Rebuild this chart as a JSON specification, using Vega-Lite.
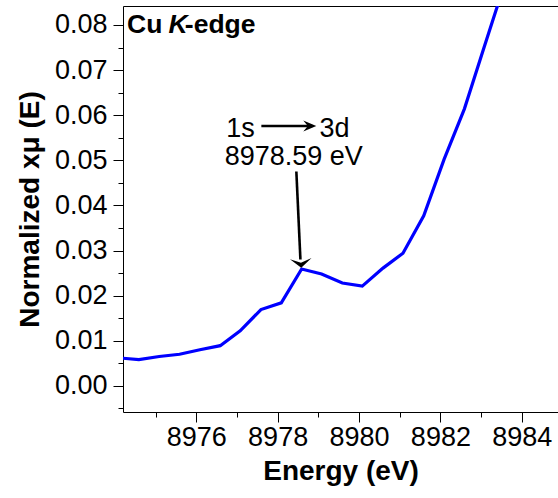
{
  "$schema": "https://vega.github.io/schema/vega-lite/v6.json",
  "width": 435,
  "height": 406,
  "autosize": "none",
  "padding": {"left": 123, "top": 6, "right": 0, "bottom": 86},
  "background": "white",
  "config": {
    "view": {"stroke": null},
    "font": "Liberation Sans",
    "axis": {
      "grid": false,
      "domainColor": "black",
      "domainWidth": 1,
      "tickColor": "black",
      "tickWidth": 1,
      "labelColor": "black",
      "titleColor": "black",
      "labelFont": "Liberation Sans",
      "titleFont": "Liberation Sans",
      "labelFontSize": 27,
      "titleFontSize": 28,
      "titleFontWeight": "bold"
    }
  },
  "datasets": {
    "spectrum": [
      {"energy": 8974.09, "mu": 0.0062},
      {"energy": 8974.59, "mu": 0.0058},
      {"energy": 8975.09, "mu": 0.0065},
      {"energy": 8975.59, "mu": 0.0070},
      {"energy": 8976.09, "mu": 0.0080},
      {"energy": 8976.59, "mu": 0.0089},
      {"energy": 8977.08, "mu": 0.0122},
      {"energy": 8977.59, "mu": 0.0169},
      {"energy": 8978.09, "mu": 0.0184},
      {"energy": 8978.59, "mu": 0.0259},
      {"energy": 8979.08, "mu": 0.0248},
      {"energy": 8979.59, "mu": 0.0228},
      {"energy": 8980.08, "mu": 0.0221},
      {"energy": 8980.59, "mu": 0.0261},
      {"energy": 8981.08, "mu": 0.0294},
      {"energy": 8981.59, "mu": 0.0377},
      {"energy": 8982.09, "mu": 0.0502},
      {"energy": 8982.59, "mu": 0.0614},
      {"energy": 8983.08, "mu": 0.0752},
      {"energy": 8983.59, "mu": 0.0895}
    ],
    "notes": [
      {"energy": 8976.74, "mu": 0.0552, "label": "1s"},
      {"energy": 8979.03, "mu": 0.0551, "label": "3d"},
      {"energy": 8976.70, "mu": 0.0490, "label": "8978.59 eV"}
    ],
    "edgeLabel": [
      {"energy": 8974.30, "mu": 0.0783, "label": "Cu"},
      {"energy": 8975.72, "mu": 0.0783, "label": "-edge"}
    ],
    "edgeLetter": [
      {"energy": 8975.32, "mu": 0.0783, "label": "K"}
    ],
    "arrows": [
      {"energy": 8977.60, "mu": 0.0576, "energyEnd": 8978.85, "muEnd": 0.0576},
      {"energy": 8978.46, "mu": 0.0475, "energyEnd": 8978.56, "muEnd": 0.0280}
    ],
    "headRight": [
      {"energy": 8978.95, "mu": 0.0576}
    ],
    "headDown": [
      {"energy": 8978.58, "mu": 0.0262}
    ]
  },
  "resolve": {"axis": {"x": "independent", "y": "independent"}},
  "layer": [
    {
      "data": {"name": "spectrum"},
      "mark": {"type": "line", "color": "#0000ff", "strokeWidth": 3.2, "clip": true},
      "encoding": {
        "x": {
          "field": "energy", "type": "quantitative",
          "scale": {"domain": [8974.2, 8984.89], "nice": false, "zero": false},
          "axis": {
            "orient": "bottom", "title": "Energy (eV)",
            "values": [8976, 8978, 8980, 8982, 8984], "format": "d",
            "tickSize": 10, "labelPadding": 2, "titlePadding": 7
          }
        },
        "y": {
          "field": "mu", "type": "quantitative",
          "scale": {"domain": [-0.0058, 0.0842], "nice": false, "zero": false},
          "axis": {
            "orient": "left", "title": "Normalized xμ (E)",
            "values": [0, 0.01, 0.02, 0.03, 0.04, 0.05, 0.06, 0.07, 0.08], "format": ".2f",
            "tickSize": 10, "labelPadding": 6, "titlePadding": 10
          }
        }
      }
    },
    {
      "data": {"name": "notes"},
      "mark": {"type": "text", "align": "left", "baseline": "alphabetic", "fontSize": 27, "color": "black"},
      "encoding": {
        "x": {
          "field": "energy", "type": "quantitative",
          "scale": {"domain": [8974.2, 8984.89], "nice": false, "zero": false},
          "axis": {
            "orient": "bottom", "title": null, "labels": false, "domain": false,
            "values": [8975, 8977, 8979, 8981, 8983], "tickSize": 5
          }
        },
        "y": {
          "field": "mu", "type": "quantitative",
          "scale": {"domain": [-0.0058, 0.0842], "nice": false, "zero": false},
          "axis": {
            "orient": "left", "title": null, "labels": false, "domain": false,
            "values": [-0.005, 0.005, 0.015, 0.025, 0.035, 0.045, 0.055, 0.065, 0.075], "tickSize": 5
          }
        },
        "text": {"field": "label"}
      }
    },
    {
      "data": {"name": "edgeLabel"},
      "mark": {"type": "text", "align": "left", "baseline": "alphabetic", "fontSize": 26.5, "fontWeight": "bold", "color": "black"},
      "encoding": {
        "x": {
          "field": "energy", "type": "quantitative",
          "scale": {"domain": [8974.2, 8984.89], "nice": false, "zero": false},
          "axis": {"orient": "top", "title": null, "labels": false, "ticks": false, "domain": true}
        },
        "y": {
          "field": "mu", "type": "quantitative",
          "scale": {"domain": [-0.0058, 0.0842], "nice": false, "zero": false},
          "axis": null
        },
        "text": {"field": "label"}
      }
    },
    {
      "data": {"name": "edgeLetter"},
      "mark": {"type": "text", "align": "left", "baseline": "alphabetic", "fontSize": 26.5, "fontWeight": "bold", "fontStyle": "italic", "color": "black"},
      "encoding": {
        "x": {
          "field": "energy", "type": "quantitative",
          "scale": {"domain": [8974.2, 8984.89], "nice": false, "zero": false},
          "axis": null
        },
        "y": {
          "field": "mu", "type": "quantitative",
          "scale": {"domain": [-0.0058, 0.0842], "nice": false, "zero": false},
          "axis": null
        },
        "text": {"field": "label"}
      }
    },
    {
      "data": {"name": "arrows"},
      "mark": {"type": "rule", "color": "black", "strokeWidth": 2.6},
      "encoding": {
        "x": {
          "field": "energy", "type": "quantitative",
          "scale": {"domain": [8974.2, 8984.89], "nice": false, "zero": false},
          "axis": null
        },
        "y": {
          "field": "mu", "type": "quantitative",
          "scale": {"domain": [-0.0058, 0.0842], "nice": false, "zero": false},
          "axis": null
        },
        "x2": {"field": "energyEnd"},
        "y2": {"field": "muEnd"}
      }
    },
    {
      "data": {"name": "headRight"},
      "mark": {"type": "point", "filled": true, "color": "black", "opacity": 1, "size": 169,
               "shape": "M0,0 L-2,-0.85 L-1.3,0 L-2,0.85 Z"},
      "encoding": {
        "x": {
          "field": "energy", "type": "quantitative",
          "scale": {"domain": [8974.2, 8984.89], "nice": false, "zero": false},
          "axis": null
        },
        "y": {
          "field": "mu", "type": "quantitative",
          "scale": {"domain": [-0.0058, 0.0842], "nice": false, "zero": false},
          "axis": null
        }
      }
    },
    {
      "data": {"name": "headDown"},
      "mark": {"type": "point", "filled": true, "color": "black", "opacity": 1, "size": 324, "angle": 87,
               "shape": "M0,0 L-1,-1.2 L-0.55,0 L-1,1.2 Z"},
      "encoding": {
        "x": {
          "field": "energy", "type": "quantitative",
          "scale": {"domain": [8974.2, 8984.89], "nice": false, "zero": false},
          "axis": null
        },
        "y": {
          "field": "mu", "type": "quantitative",
          "scale": {"domain": [-0.0058, 0.0842], "nice": false, "zero": false},
          "axis": null
        }
      }
    }
  ]
}
